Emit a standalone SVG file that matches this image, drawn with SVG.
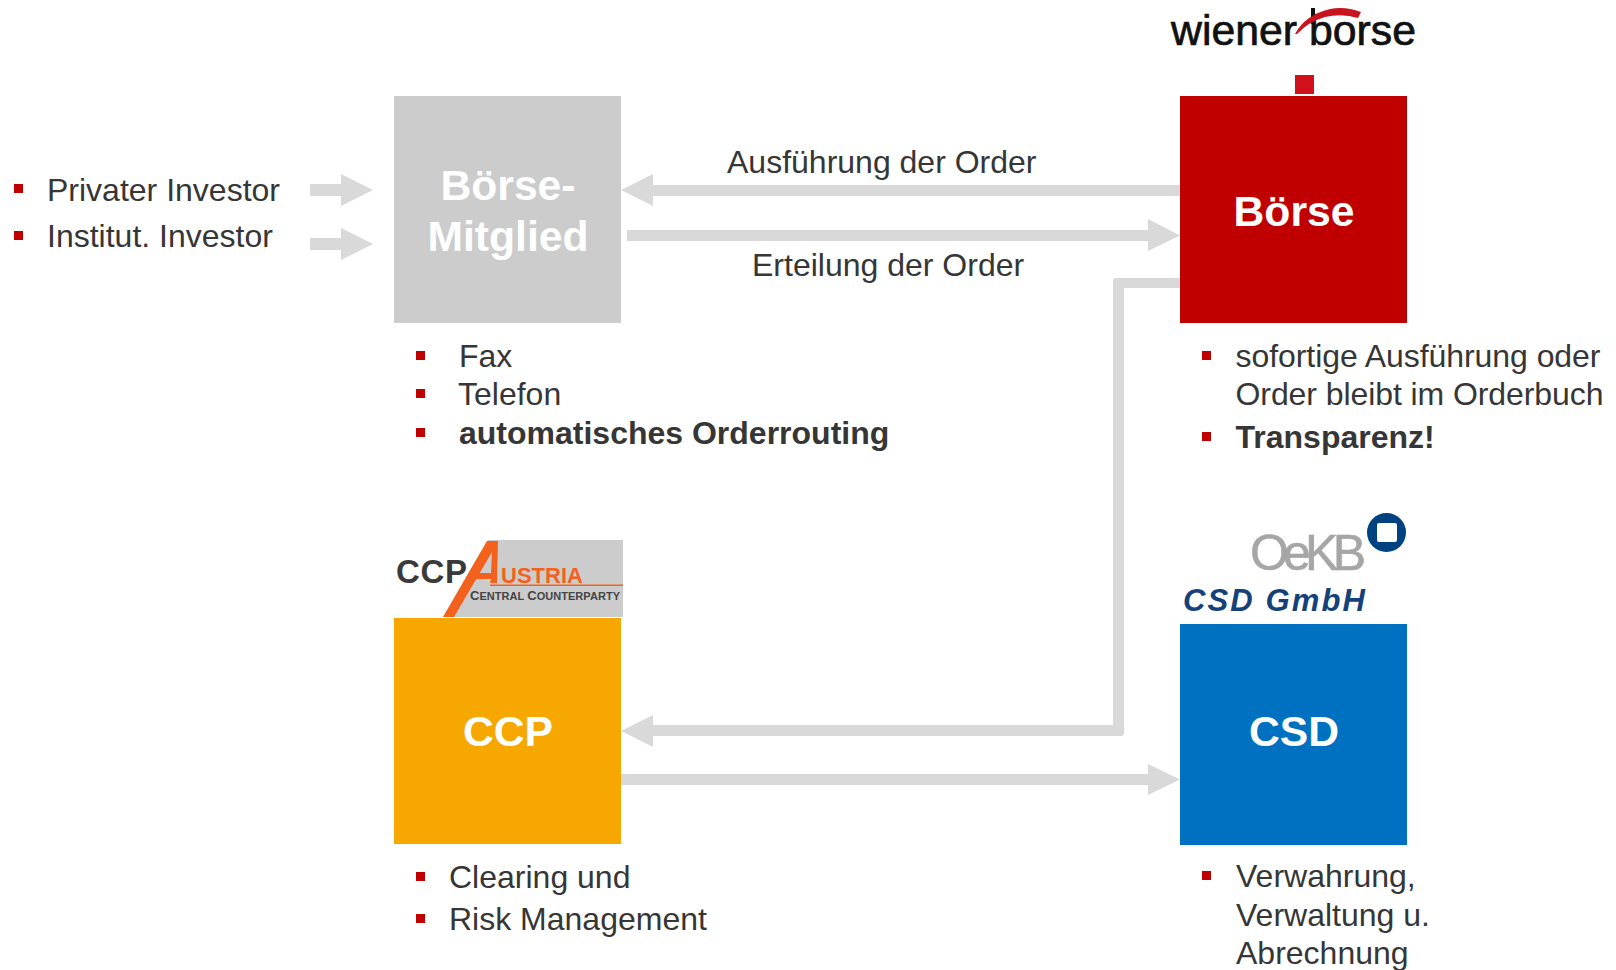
<svg xmlns="http://www.w3.org/2000/svg" width="1616" height="970" viewBox="0 0 1616 970">
<style>
text{font-family:"Liberation Sans",Arial,sans-serif}
.t{font-size:32px;fill:#363636}
.b{font-weight:bold}
.n{font-size:42.67px;font-weight:bold;fill:#fff;text-anchor:middle}
.bu{fill:#c00000}
.a{fill:#d9d9d9}
</style>
<rect width="1616" height="970" fill="#fff"/>
<g id="connectors">
<path class="a" d="M310 184H341V174L373 190L341 206V196H310Z"/>
<path class="a" d="M310 238H341V228L373 244L341 260V250H310Z"/>
<path class="a" d="M1180 185V196H653V206L621 190L653 174V185Z"/>
<path class="a" d="M627 230H1148V219L1180 235.500L1148 251V241H627Z"/>
<path class="a" d="M1180 278V288H1124V733Q1124 736 1121 736H653V747L621 731L653 715V725H1113V281Q1113 278 1116 278Z"/>
<path class="a" d="M621 774H1148V764L1180 779.500L1148 795V785H621Z"/>
</g>
<g id="investors">
<rect class="bu" x="14" y="184" width="9" height="9"/>
<text class="t" x="47" y="201">Privater Investor</text>
<rect class="bu" x="14" y="231" width="9" height="9"/>
<text class="t" x="47" y="247">Institut. Investor</text>
</g>
<g id="label-ausfuehrung"><text class="t" x="727" y="173">Ausführung der Order</text></g>
<g id="label-erteilung"><text class="t" x="752" y="276">Erteilung der Order</text></g>
<g id="boerse-mitglied">
<rect x="394" y="96" width="227" height="227" fill="#cccccc"/>
<text class="n" x="508" y="200">Börse-</text>
<text class="n" x="508" y="251">Mitglied</text>
</g>
<g id="boerse-mitglied-list">
<rect class="bu" x="416" y="351" width="9" height="9"/>
<text class="t" x="459" y="367">Fax</text>
<rect class="bu" x="416" y="389" width="9" height="9"/>
<text class="t" x="458" y="405">Telefon</text>
<rect class="bu" x="416" y="428" width="9" height="9"/>
<text class="t b" x="459" y="444">automatisches Orderrouting</text>
</g>
<g id="boerse">
<rect x="1180" y="96" width="227" height="227" fill="#c00000"/>
<text class="n" x="1294" y="226">Börse</text>
</g>
<g id="boerse-list">
<rect class="bu" x="1202" y="351" width="9" height="9"/>
<text class="t" x="1235.500" y="367" textLength="365">sofortige Ausführung oder</text>
<text class="t" x="1235.500" y="405" textLength="368">Order bleibt im Orderbuch</text>
<rect class="bu" x="1202" y="432" width="9" height="9"/>
<text class="t b" x="1235.500" y="448">Transparenz!</text>
</g>
<g id="logo-wiener-boerse">
<text x="1171" y="44.500" font-size="42" fill="#111" stroke="#111" stroke-width="0.7" textLength="245" lengthAdjust="spacingAndGlyphs">wiener borse</text>
<rect x="1311" y="8" width="4" height="16" fill="#111"/>
<path d="M1295 34Q1305 15 1330 9Q1345 6 1361 12L1358 18Q1342 13 1325 17Q1308 22 1297 34Z" fill="#c8141e"/>
<rect x="1295" y="75" width="19" height="19" fill="#d0101a"/>
</g>
<g id="ccp">
<rect x="394" y="618" width="227" height="226" fill="#f7a800"/>
<text class="n" x="508" y="746">CCP</text>
</g>
<g id="ccp-list">
<rect class="bu" x="416" y="872" width="9" height="9"/>
<text class="t" x="449" y="888">Clearing und</text>
<rect class="bu" x="416" y="914" width="9" height="9"/>
<text class="t" x="449" y="930">Risk Management</text>
</g>
<g id="logo-ccp">
<path d="M488 540H623V617H443Z" fill="#cccccc"/>
<path d="M443 617L487 541H498L497 583H490L491 579H468L472 573H491L492 552L454 617Z" fill="#f4611c"/>
<rect x="490" y="584.500" width="133" height="1.500" fill="#f4611c"/>
<text x="396" y="583" font-size="33" font-weight="bold" fill="#3a3a3a" textLength="71">CCP</text>
<text x="501" y="583" font-size="22" font-weight="bold" fill="#f4611c">USTRIA</text>
<text x="470" y="600" font-size="11" font-weight="bold" fill="#444" textLength="150" lengthAdjust="spacing"><tspan font-size="13">C</tspan>ENTRAL <tspan font-size="13">C</tspan>OUNTERPARTY</text>
</g>
<g id="csd">
<rect x="1180" y="624" width="227" height="221" fill="#0070c0"/>
<text class="n" x="1294" y="746">CSD</text>
</g>
<g id="csd-list">
<rect class="bu" x="1202" y="871" width="9" height="9"/>
<text class="t" x="1236" y="887">Verwahrung,</text>
<text class="t" x="1236" y="926">Verwaltung u.</text>
<text class="t" x="1236" y="964">Abrechnung</text>
</g>
<g id="logo-csd">
<text x="1250" y="570" font-size="50" fill="#a6a6a6" stroke="#a6a6a6" stroke-width="0.6" textLength="116" lengthAdjust="spacing">OeKB</text>
<circle cx="1386.500" cy="532.500" r="19.500" fill="#00427f"/>
<rect x="1377" y="523" width="20" height="19" rx="2" fill="#fff"/>
<text x="1183" y="611" font-size="31" font-weight="bold" font-style="italic" fill="#14417a" textLength="182" lengthAdjust="spacing">CSD GmbH</text>
</g>
</svg>
